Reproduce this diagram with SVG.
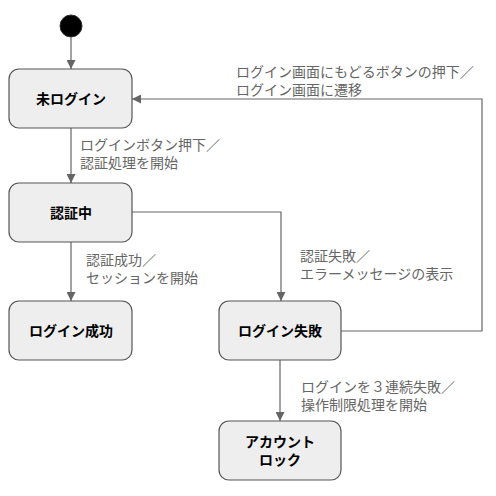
<svg xmlns="http://www.w3.org/2000/svg" width="496" height="496" viewBox="0 0 496 496">
<style>
.node rect{fill:#eeeeee;stroke:#555555;stroke-width:1.2}
.nt{font-family:"Noto Sans CJK JP","Noto Sans",sans-serif;font-size:14px;font-weight:bold;fill:#000;text-anchor:middle}
.lb{font-family:"Noto Sans CJK JP","Noto Sans",sans-serif;font-size:14px;fill:#666666}
.edge{fill:none;stroke:#666666;stroke-width:1.2}
</style>
<defs>
<marker id="ah" viewBox="0 0 10 10" refX="10" refY="5" markerWidth="9" markerHeight="9" markerUnits="userSpaceOnUse" orient="auto">
<path d="M0,0 L10,5 L0,10 z" fill="#666666"/>
</marker>
</defs>
<rect width="496" height="496" fill="#ffffff"/>
<g id="start"><circle cx="71" cy="26" r="11" fill="#000" stroke="#333" stroke-width="1"/></g>
<g id="connectors">
<path class="edge" d="M71,37 L71,69" marker-end="url(#ah)"/>
<path class="edge" d="M71,128 L71,183" marker-end="url(#ah)"/>
<path class="edge" d="M71,242 L71,301" marker-end="url(#ah)"/>
<path class="edge" d="M132,212 L281,212 L281,301" marker-end="url(#ah)"/>
<path class="edge" d="M341,331 L482,331 L482,99 L132,99" marker-end="url(#ah)"/>
<path class="edge" d="M280,360 L280,421" marker-end="url(#ah)"/>
<text class="lb" x="80" y="150">ログインボタン押下／</text>
<text class="lb" x="80" y="168">認証処理を開始</text>
<text class="lb" x="86" y="265">認証成功／</text>
<text class="lb" x="86" y="283">セッションを開始</text>
<text class="lb" x="300" y="261">認証失敗／</text>
<text class="lb" x="300" y="279">エラーメッセージの表示</text>
<text class="lb" x="236" y="77">ログイン画面にもどるボタンの押下／</text>
<text class="lb" x="236" y="95">ログイン画面に遷移</text>
<text class="lb" x="301" y="392">ログインを３連続失敗／</text>
<text class="lb" x="301" y="410">操作制限処理を開始</text>
</g>
<g id="n1" class="node"><rect x="9" y="69" width="123" height="59" rx="10"/><text class="nt" x="71" y="104">未ログイン</text></g>
<g id="n2" class="node"><rect x="9" y="183" width="123" height="59" rx="10"/><text class="nt" x="71" y="218">認証中</text></g>
<g id="n3" class="node"><rect x="9" y="301" width="123" height="59" rx="10"/><text class="nt" x="71" y="336">ログイン成功</text></g>
<g id="n4" class="node"><rect x="219" y="301" width="122" height="59" rx="10"/><text class="nt" x="280" y="336">ログイン失敗</text></g>
<g id="n5" class="node"><rect x="219" y="421" width="122" height="59" rx="10"/><text class="nt" x="280" y="447">アカウント</text><text class="nt" x="280" y="465">ロック</text></g>
</svg>
